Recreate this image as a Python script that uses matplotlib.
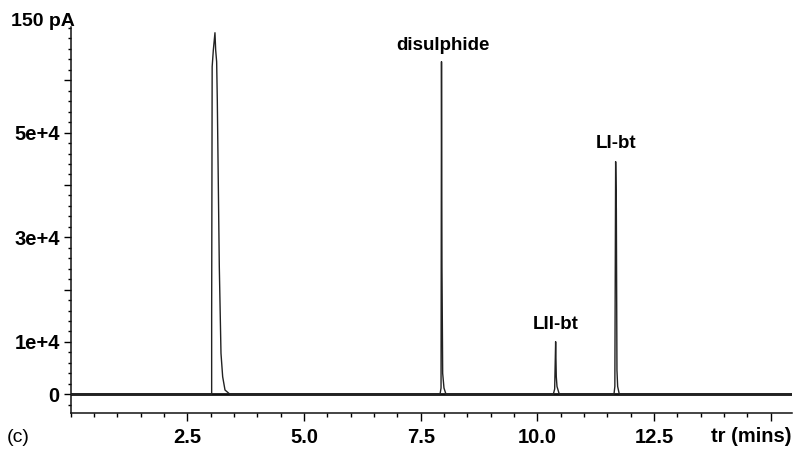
import matplotlib
matplotlib.use("Agg")
import matplotlib.pyplot as plt
from matplotlib.ticker import MultipleLocator, FixedLocator, FixedFormatter

FONT = ["Liberation Sans", "DejaVu Sans"]

# Trace vertices (retention time in min, signal), one group per peak
solvent_t = [3.00, 3.019, 3.019, 3.030, 3.055, 3.090, 3.105, 3.126, 3.140,
             3.183, 3.219, 3.255, 3.305, 3.412]
solvent_y = [0, 0, 14820, 62580, 65770, 69070, 65770, 63530, 56220,
             24370, 7830, 3360, 820, 0]

disulphide_t = [7.913, 7.935, 7.945, 7.955, 7.970, 7.998, 8.041]
disulphide_y = [0, 1200, 63540, 24370, 4010, 1200, 0]

lii_t = [10.341, 10.370, 10.391, 10.405, 10.420, 10.470]
lii_y = [0, 1000, 10050, 3370, 1500, 0]

li_t = [11.641, 11.660, 11.677, 11.692, 11.705, 11.720, 11.756]
li_y = [0, 1500, 44440, 35340, 4640, 1500, 0]

peak_labels = ["disulphide", "LII-bt", "LI-bt"]
label_pos = [(7.97, 65000), (10.40, 11700), (11.68, 46300)]

x_major = [2.5, 5.0, 7.5, 10.0, 12.5, 15.0]
x_major_labels = ["2.5", "5.0", "7.5", "10.0", "12.5", ""]
y_major = [0, 10000, 20000, 30000, 40000, 50000, 60000]
y_major_labels = ["0", "1e+4", "", "3e+4", "", "5e+4", ""]

X_MAX = 15.45
Y_MIN, Y_MAX = -3570, 70220

fig = plt.figure(figsize=(7.98, 4.49), dpi=100)
fig.patch.set_facecolor("white")
ax = fig.add_axes([0.0887, 0.0802, 0.9034, 0.8603])

# build one continuous trace along a flat baseline
t = [0.0]
y = [0.0]
for pt, py in [(solvent_t, solvent_y), (disulphide_t, disulphide_y),
               (lii_t, lii_y), (li_t, li_y)]:
    t += pt
    y += py
t.append(X_MAX)
y.append(0.0)

ax.axhline(0, color="#111111", lw=2.0, zorder=2)
ax.plot(t, y, color="#222222", lw=1.0, zorder=3)

ax.set_xlim(0, X_MAX)
ax.set_ylim(Y_MIN, Y_MAX)

for s in ["top", "right"]:
    ax.spines[s].set_visible(False)
for s in ["left", "bottom"]:
    ax.spines[s].set_linewidth(1.1)
    ax.spines[s].set_color("#111111")

ax.xaxis.set_major_locator(FixedLocator(x_major))
ax.xaxis.set_major_formatter(FixedFormatter(x_major_labels))
ax.xaxis.set_minor_locator(MultipleLocator(0.5))
ax.yaxis.set_major_locator(FixedLocator(y_major))
ax.yaxis.set_major_formatter(FixedFormatter(y_major_labels))
ax.yaxis.set_minor_locator(MultipleLocator(2000))

ax.tick_params(axis="x", which="major", direction="out", length=6, width=1,
               pad=5, labelsize=14.5)
ax.tick_params(axis="x", which="minor", direction="out", length=3, width=1)
ax.tick_params(axis="y", which="major", direction="out", length=5, width=1,
               pad=3, labelsize=14.5)
ax.tick_params(axis="y", which="minor", direction="out", length=2.5, width=1)
for lbl in ax.get_xticklabels() + ax.get_yticklabels():
    lbl.set_fontfamily(FONT)
    lbl.set_fontweight("bold")

for txt, (lx, ly) in zip(peak_labels, label_pos):
    ax.text(lx, ly, txt, ha="center", va="bottom", fontsize=13.5,
            fontweight="bold", family=FONT)

fig.text(11 / 798, 1 - 21.7 / 449, "150 pA", ha="left", va="center",
         fontsize=14, fontweight="bold", family=FONT)
fig.text(7 / 798, 1 - 437 / 449, "(c)", ha="left", va="center",
         fontsize=14, family=FONT)
fig.text(711 / 798, 1 - 437 / 449, "tr (mins)", ha="left", va="center",
         fontsize=14.5, fontweight="bold", family=FONT)

fig.savefig("out.png", dpi=100, facecolor="white")
